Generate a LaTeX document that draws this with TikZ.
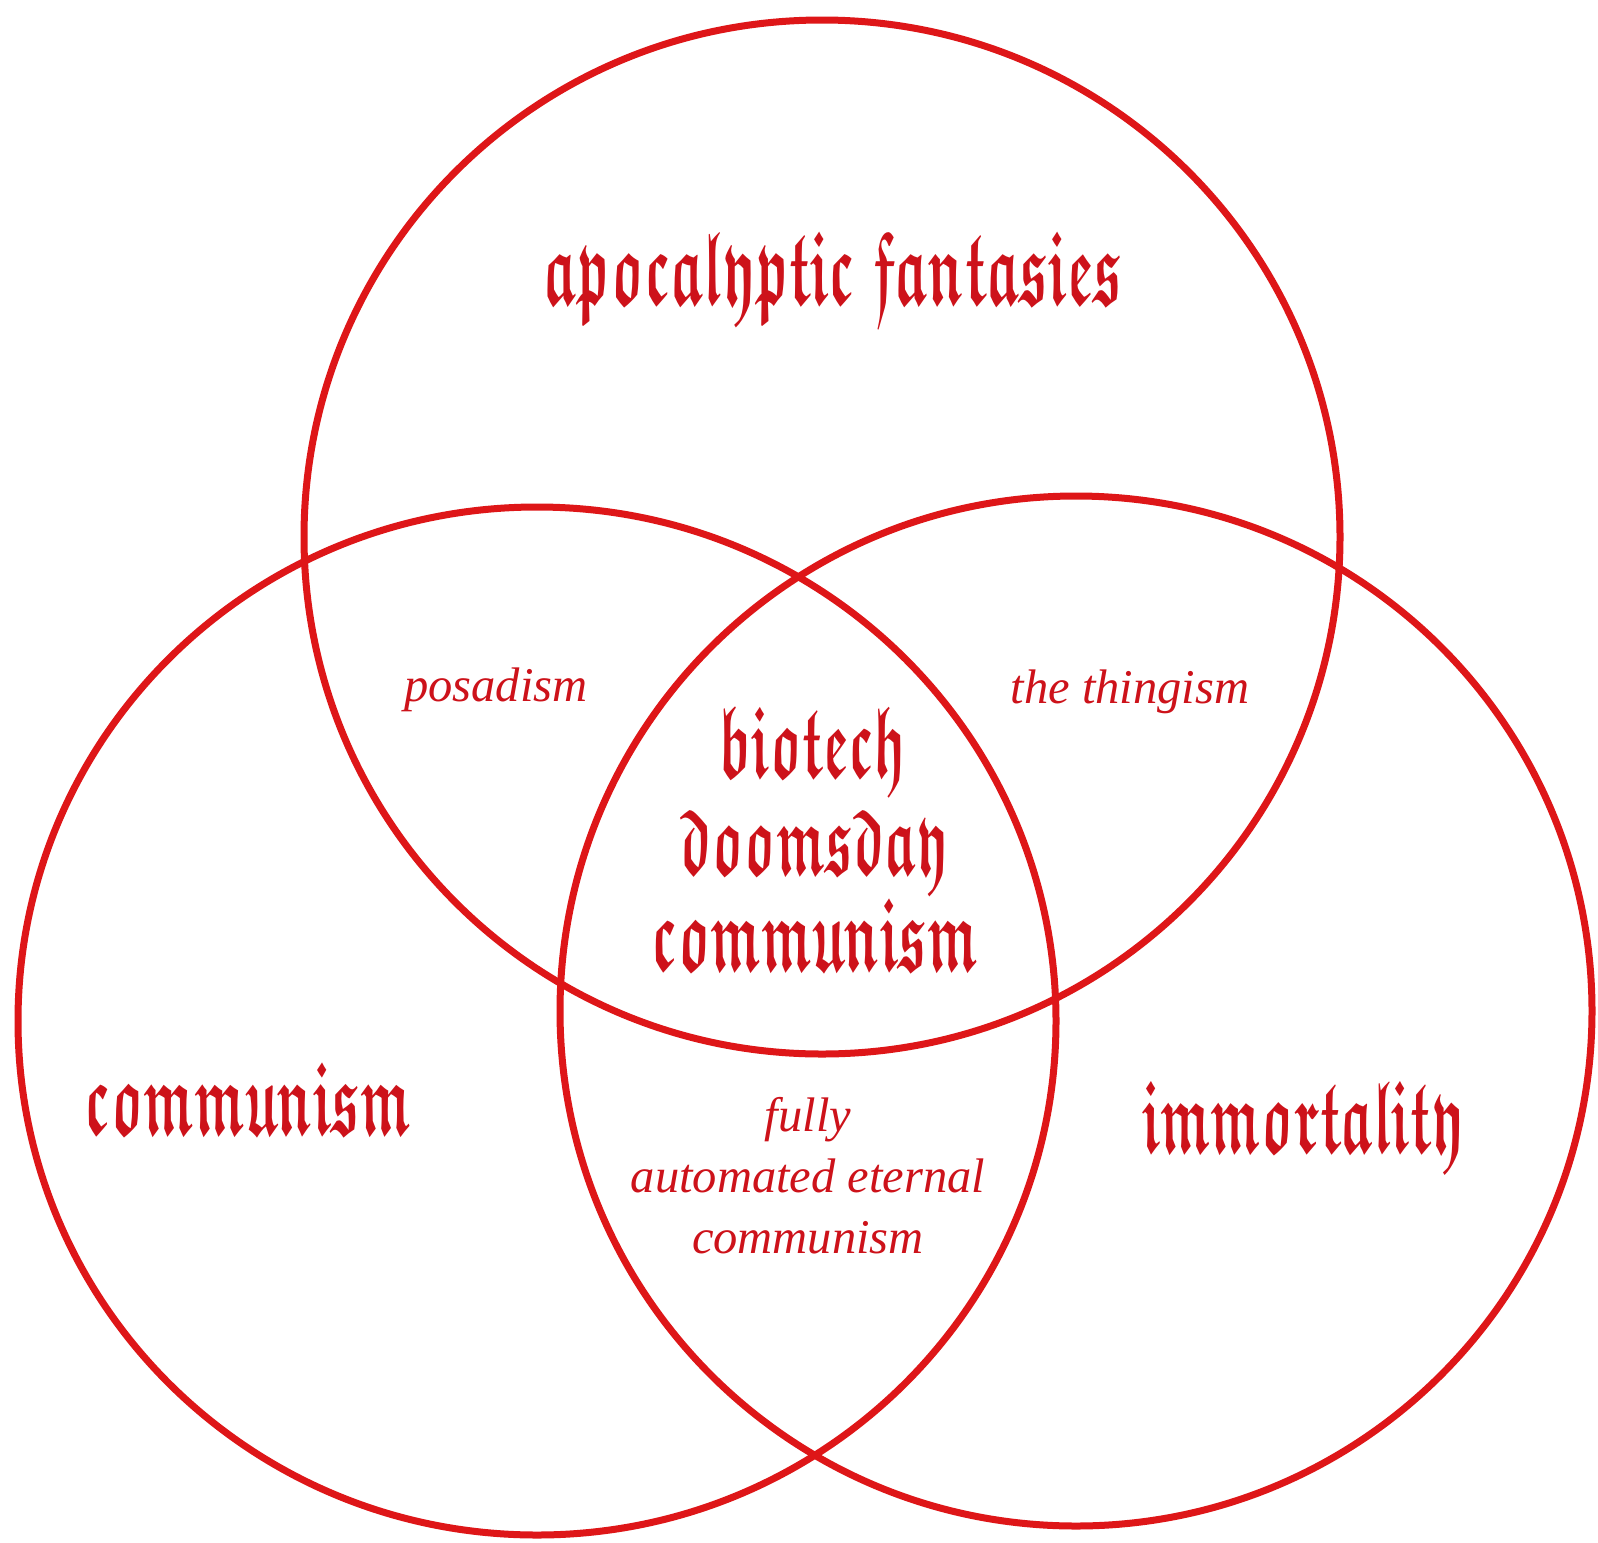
\documentclass[tikz,border=0pt]{standalone}
\usepackage{amsmath,amssymb}
\usepackage{fontspec}
\newfontfamily\serifit{Liberation Serif}
\definecolor{vred}{RGB}{222,22,24}
\definecolor{tred}{RGB}{205,18,26}
\newcommand\palit{\serifit\itshape\fontsize{48.5}{61}\selectfont}
\newcommand\bl[1]{\scalebox{1}[1.9]{\ensuremath{\boldsymbol{\mathfrak{#1}}}}}
\begin{document}
\begin{tikzpicture}[x=1pt,y=-1pt,
  ring/.style={draw=vred,line width=7pt},
  goth/.style={inner sep=0pt,anchor=base,text=tred},
  ital/.style={inner sep=0pt,anchor=base,text=tred,font=\palit}]
\fill[white] (0,0) rectangle (1598,1542);
\useasboundingbox (0,0) rectangle (1598,1542);
% circles
\draw[ring] (822,537) ellipse [x radius=518, y radius=517];
\draw[ring] (537,1021) ellipse [x radius=519, y radius=514];
\draw[ring] (1076,1011) ellipse [x radius=516, y radius=515];
% main labels
\node[goth] (apoc) at (833,304) {\resizebox{579pt}{!}{\bl{apocalyptic}\,\,\bl{fantasies}}};
\node[goth] (comm) at (248,1134) {\resizebox{326pt}{!}{\bl{communism}}};
\node[goth] (immo) at (1303,1152) {\resizebox{321pt}{!}{\bl{immortality}}};
% centre
\node[goth] (bio1) at (813,777) {\resizebox{187pt}{!}{\bl{biotech}}};
\node[goth] (bio2) at (814,874) {\resizebox{268pt}{!}{\bl{doomsday}}};
\node[goth] (bio3) at (815,970) {\resizebox{326pt}{!}{\bl{communism}}};
% pairwise
\node[ital] (posa) at (496,701) {posadism};
\node[ital] (thing) at (1130,703) {the thingism};
\node[ital] (fa1) at (808,1131) {fully};
\node[ital] (fa2) at (808,1192) {automated eternal};
\node[ital] (fa3) at (808,1253) {communism};
\end{tikzpicture}
\end{document}
